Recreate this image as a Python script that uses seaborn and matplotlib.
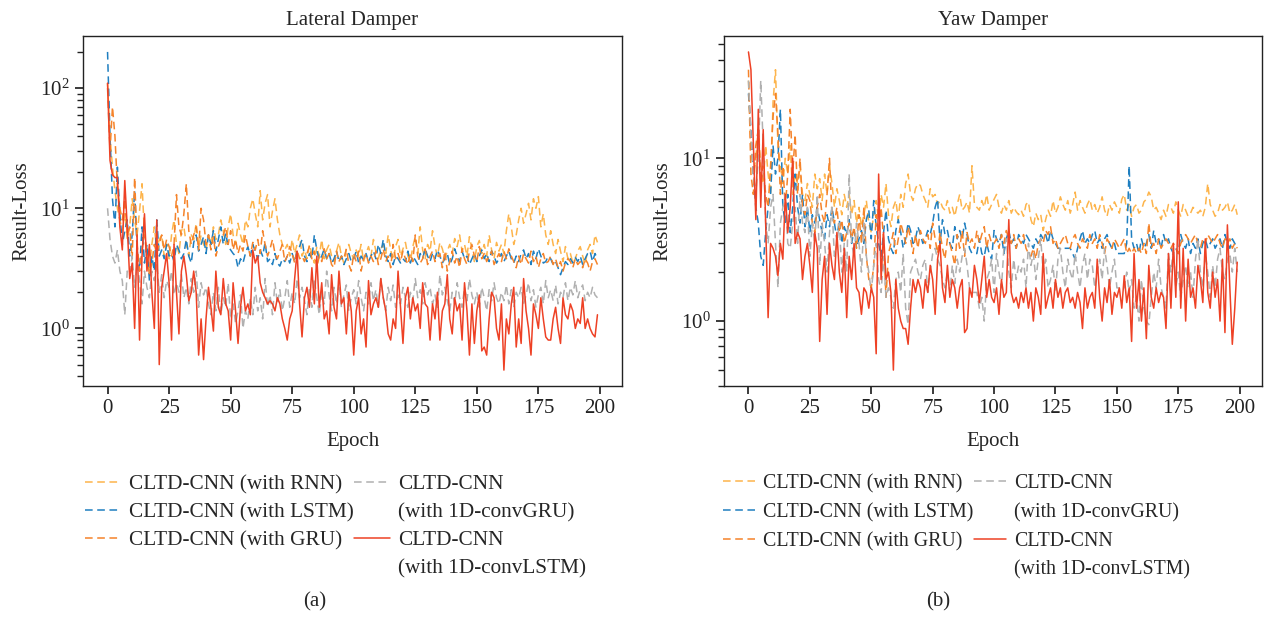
import numpy as np
import pandas as pd
import matplotlib
matplotlib.use('Agg')
import matplotlib.pyplot as plt
import seaborn as sns
from matplotlib.lines import Line2D

# Lateral damper losses (epochs 0..199)
lat_rnn = [
    110, 40, 22, 14, 10, 8, 6.5, 9, 5.5, 7, 12, 8, 6, 9.5, 16, 6, 4.5, 3.2, 5, 7,
    4.5, 5.5, 6, 4, 5, 3.8, 6, 8, 5, 4.2, 6.5, 7, 5, 4, 6, 5.5, 7.5, 4.8, 6, 5,
    4.5, 6, 5, 7, 5.5, 6, 8, 6.5, 5, 7, 9, 6, 5, 7.5, 6, 5, 8, 7, 10, 12,
    9, 7, 14, 8, 11, 13, 7, 9.5, 12, 8, 6, 5, 4.5, 5, 4, 5.5, 4.2, 5, 6, 4,
    4.5, 3.8, 5, 4.2, 3.5, 4.8, 4, 5.5, 3.8, 4.5, 5, 4, 3.6, 4.4, 5.2, 4, 3.5, 4.6, 5, 4.2,
    3.8, 4.5, 4, 5, 3.6, 4.2, 4.8, 4, 5.5, 4.4, 3.8, 4.6, 5, 4.2, 6, 4.5, 3.7, 4.8, 5.5, 4,
    4.6, 5.2, 4, 3.6, 4.8, 5.8, 4.2, 7, 4.5, 3.8, 5, 4.4, 6.5, 4.8, 4, 5.2, 4.6, 3.8, 4.4, 5,
    4.2, 5.6, 4.8, 6, 4.4, 5, 4, 5.8, 4.6, 3.6, 4.8, 5.4, 4.2, 5, 4, 6, 4.5, 3.8, 5.2, 4.4,
    5, 4.2, 6.5, 9, 7, 5, 6, 8, 10, 7.5, 9, 11, 8, 12, 10, 12.5, 7, 9, 6, 5,
    6.5, 5, 4.2, 5.5, 4.4, 3.6, 4.8, 3.8, 4.2, 3.5, 3.8, 4.4, 4.8, 4, 3.4, 4.5, 5, 4.2, 6, 5.2,
]
lat_lstm = [
    200, 40, 12, 7, 22, 9, 5, 6.5, 8, 4, 6, 14, 4.5, 3, 7, 3.5, 5, 2.5, 4, 3,
    8, 4, 4.5, 3.8, 5, 4, 4.2, 3.6, 5, 4.5, 3.8, 4.2, 5.5, 4, 3.5, 5.2, 6, 4.4, 5, 5.8,
    4.2, 6, 5, 6.5, 4.4, 5.5, 7, 5, 6.2, 4.8, 4.5, 4.2, 4, 3.2, 3.8, 3.5, 4.2, 4.8, 4, 5,
    4.4, 3.8, 4.5, 4, 5.2, 3.6, 3.8, 3.4, 4.2, 3.5, 3.3, 3.8, 3.6, 4, 3.5, 4.2, 3.6, 4.5, 4.8, 5.5,
    4, 3.6, 4.2, 3.8, 6, 4.5, 3.7, 4, 4.6, 3.8, 4.2, 3.5, 3.8, 4.4, 3.6, 4, 3.4, 3.8, 4.2, 3.6,
    3.8, 4.4, 3.5, 4, 3.7, 4.2, 3.6, 4, 4.4, 3.8, 5, 4.2, 5.5, 4, 3.6, 4.2, 3.4, 4, 3.8, 3.5,
    3.8, 3.6, 4.4, 3.5, 4, 3.7, 3.4, 4.2, 3.8, 4.6, 4, 3.6, 4.2, 3.8, 4.5, 4, 3.5, 3.8, 4.2, 3.4,
    3.8, 4.6, 4, 3.6, 4.4, 3.8, 4, 3.4, 3.8, 4.2, 3.6, 4, 4.5, 3.8, 4.2, 3.6, 4.4, 4, 3.5, 3.8,
    4.2, 3.6, 4, 4.4, 3.8, 3.5, 4, 3.6, 4.2, 4.5, 3.8, 4.2, 3.4, 4.4, 3.8, 4.6, 4, 3.5, 3.6, 4,
    3.8, 3.4, 3.6, 3.2, 2.8, 3.2, 3.6, 3.4, 3.8, 3.5, 3.9, 3.6, 4, 3.4, 3.8, 4.2, 4.4, 3.6, 4.2, 3.8,
]
lat_gru = [
    100, 30, 70, 40, 15, 10, 8, 12, 6, 7, 3.8, 18, 5, 3, 4.5, 6, 4, 2.8, 3.5, 5,
    4.2, 5, 6, 4.5, 5.5, 4.8, 4, 5, 13, 7, 6, 9, 16, 6.5, 5, 6, 7, 4.5, 10, 8,
    5, 6, 4.5, 5.8, 4, 4.8, 5.5, 6, 7, 5, 6.5, 4.5, 5.5, 4.2, 5, 4.4, 6, 4.8, 4, 5.2,
    4.5, 5.5, 4.2, 6.5, 5, 4, 4.6, 5.5, 4.2, 3.8, 4.4, 5, 3.6, 4, 4.8, 4.2, 3.5, 4.5, 3.8, 4,
    3.6, 4.2, 4.8, 3.8, 4.4, 3.2, 4, 3.6, 4.6, 3.8, 4.2, 3.4, 3.2, 4.4, 3.6, 4, 3.8, 4.6, 3.4, 3,
    4.2, 3.6, 4.4, 3, 3.8, 4.2, 3.5, 4, 3.6, 4.4, 3.4, 3.8, 4.6, 3.6, 4, 3.2, 5, 3.8, 4.2, 3.6,
    4.4, 3.8, 3.4, 4.2, 3.6, 6, 4, 3.5, 3.8, 4.6, 3.4, 4, 4.4, 3.6, 3.8, 4.2, 3.2, 4.4, 3, 3.6,
    4.4, 3.5, 4, 3.2, 4.6, 3.8, 3.4, 4.4, 5, 4, 3.6, 4.8, 3.8, 4.2, 3.6, 4, 4.4, 3.4, 3.8, 4.2,
    3.6, 4.4, 3.8, 4.6, 4, 3.6, 3.2, 4, 3.4, 4.2, 3.8, 3.5, 4.4, 3.6, 4, 3.2, 3.8, 4.2, 3.5, 3.6,
    4, 3.4, 3.8, 3.2, 3.6, 3, 3.5, 3.8, 3.6, 3.2, 3.8, 3.4, 3.6, 3.2, 3.8, 3.5, 3, 3.6, 3.8, 3.4,
]
lat_convgru = [
    10, 5.5, 4, 3.5, 4.5, 3, 2.5, 1.3, 3, 2.8, 4, 2.2, 3.5, 2.5, 1.6, 3, 2.2, 1.8, 3, 2.5,
    3.5, 2, 2.8, 1.8, 2.5, 2.2, 3, 1.9, 2.4, 2, 2.8, 1.8, 2.2, 1.6, 2.6, 2, 3, 1.5, 2.4, 1.9,
    2.2, 1.6, 1.3, 2, 1.4, 2.2, 1.3, 1.8, 1.5, 2.4, 1.2, 1.6, 1.1, 1.4, 1.9, 1.0, 1.4, 1.2, 1.8, 1.3,
    2.2, 1.4, 1.8, 1.2, 2.6, 1.5, 1.9, 1.3, 2.4, 1.6, 2.1, 1.4, 1.8, 2.5, 1.5, 2, 1.6, 2.6, 1.8, 2.2,
    1.7, 1.3, 2.2, 1.5, 2.6, 1.8, 1.3, 2, 1.6, 3, 1.9, 1.4, 2.2, 1.6, 2.4, 1.5, 1.9, 2.3, 1.4, 1.8,
    2.1, 1.6, 2.5, 1.8, 1.4, 2, 1.6, 2.4, 1.7, 2.1, 1.5, 2.6, 1.8, 1.4, 2.2, 1.7, 2.3, 1.5, 1.9, 1.6,
    2.2, 1.8, 1.5, 2, 1.7, 2.6, 1.8, 2.1, 1.6, 2.4, 1.9, 2.2, 1.6, 1.9, 1.5, 2.8, 1.9, 2.2, 1.7, 1.4,
    2, 1.6, 2.4, 1.8, 1.5, 2.2, 1.7, 2.6, 1.9, 1.6, 2, 1.5, 2.2, 1.8, 1.4, 2.1, 1.7, 2.4, 1.8, 1.6,
    2, 1.7, 2.3, 1.6, 2.1, 1.5, 2, 1.8, 2.2, 1.6, 1.9, 2.4, 1.7, 2.1, 1.5, 1.9, 2.2, 1.6, 2.5, 1.8,
    2.1, 1.7, 2.3, 1.6, 2, 1.8, 2.4, 1.7, 2.2, 1.9, 2.5, 1.8, 2.1, 2.3, 1.7, 2, 1.8, 2.2, 1.9, 1.8,
]
lat_convlstm = [
    110, 25, 19, 18, 18, 7, 4.5, 17, 7, 2.6, 3.5, 1.0, 6, 0.8, 4, 9, 3, 5, 2, 1.0,
    8, 0.5, 2.2, 3, 4.2, 2.4, 0.8, 5, 2, 0.9, 3, 4, 2.8, 1.7, 2, 3, 2, 0.6, 1.2, 0.55,
    1.2, 2.2, 1.5, 0.95, 3, 1.5, 1.3, 2.6, 1.6, 1.4, 0.8, 2.4, 1.4, 0.75, 1.5, 2.2, 1.4, 1.6, 1.3, 4.5,
    3.5, 4, 2.4, 2, 1.8, 1.6, 1.7, 1.6, 1.4, 1.8, 1.6, 1.2, 1.0, 0.8, 1.2, 1.4, 2.6, 4.4, 1.6, 0.85,
    1.8, 2.2, 1.5, 3.2, 1.6, 4, 1.5, 2.4, 1.2, 1.4, 0.9, 2.8, 1.5, 1.2, 3, 1.6, 1.8, 0.9, 2, 1.4,
    0.6, 1.4, 1.8, 0.9, 1.2, 0.7, 2.5, 1.3, 1.6, 1.8, 1.5, 2.6, 1.8, 1.4, 0.9, 0.8, 1.2, 1.0, 3.0, 1.5,
    0.75, 1.8, 2.2, 1.2, 1.8, 1.4, 1.6, 1.0, 2.4, 1.6, 1.5, 0.8, 1.6, 1.2, 2.0, 0.8, 1.4, 1.6, 2.8, 1.2,
    0.9, 1.8, 1.4, 1.6, 0.8, 2.4, 1.4, 0.6, 1.6, 0.75, 1.4, 1.9, 0.65, 0.7, 0.6, 1.2, 2, 1.8, 1.0, 0.8,
    1.6, 0.45, 1.2, 0.9, 1.6, 2.2, 0.7, 1.2, 0.75, 2.6, 1.4, 1.0, 0.6, 1.6, 1.3, 1.0, 1.8, 1.2, 0.85, 0.8,
    0.8, 1.2, 1.5, 1.0, 0.75, 1.8, 1.3, 1.2, 1.6, 1.4, 1.0, 1.2, 1.1, 1.8, 1.0, 1.2, 1.0, 0.9, 0.85, 1.3,
]

# Yaw damper losses (epochs 0..199)
yaw_rnn = [
    30, 12, 8, 10, 15, 9, 7, 12, 8, 6, 22, 35, 12, 9, 7, 10, 8, 12, 6, 8,
    7, 9, 6, 5.5, 7, 6, 5, 8, 6.5, 7.5, 5.5, 8, 6, 9, 7, 5, 6.5, 5.5, 4.5, 6,
    5, 6, 4.5, 5.5, 4, 5, 3.8, 4.5, 5.5, 4, 3.5, 4.5, 5.5, 4.2, 6, 5, 7, 4.5, 3.8, 5,
    5.5, 4.2, 6, 5, 7, 8, 6, 5.5, 6.5, 7, 6.8, 6, 5.5, 5, 6.5, 5.8, 6, 5.2, 5.5, 5,
    4.8, 5.5, 4.6, 5, 4.4, 5.2, 6, 4.8, 5, 5.4, 4.6, 9, 5.2, 5, 4.8, 5.5, 5, 6, 4.8, 5.2,
    5.6, 6, 5, 4.6, 5.2, 4.8, 5.5, 4.6, 5, 4.7, 4.5, 4.8, 4.4, 5.2, 5.4, 4.2, 3.8, 4.6, 4.2, 4.5,
    3.6, 4.2, 4.8, 4.4, 5.5, 4.6, 5, 5.8, 5.2, 4.8, 5.5, 4.6, 5.2, 6.2, 4.8, 5.5, 5, 4.6, 5.2, 5.6,
    4.8, 5.2, 4.6, 5, 5.8, 4.8, 4.4, 5.2, 4.8, 5.4, 5, 4.6, 5.6, 6, 4.8, 5.2, 4.4, 5, 5.2, 4.6,
    4.8, 5.4, 5.6, 6.2, 5.8, 4.8, 5, 4.6, 4.2, 4.8, 4.4, 5.2, 5, 4.6, 5.4, 4.8, 4.4, 5.2, 4.8, 4.4,
    4.6, 5, 4.8, 4.6, 4.8, 4.4, 5, 7, 5.2, 4.8, 4.4, 4.6, 5.2, 4.8, 5, 5.4, 4.6, 4.8, 5.2, 4.5,
]
yaw_lstm = [
    25, 15, 8, 5, 4, 2.5, 2.2, 3.5, 5, 6, 12, 8, 10, 20, 5, 4, 6, 3.5, 5, 8,
    5, 4, 6, 3.8, 5, 3.5, 4.5, 4, 5, 4.2, 3.5, 3.2, 4.5, 3.8, 5, 4, 3.2, 4.2, 3, 3.8,
    3.4, 4.2, 3, 3.6, 2.8, 3.2, 3.6, 3, 4.2, 4.8, 3.2, 5.5, 3.8, 3, 2.5, 3.5, 4.8, 3.2, 2.8, 2.6,
    3.6, 4.2, 3.5, 2.8, 3.2, 4, 3.6, 3, 3.2, 3.8, 3.4, 3, 3.2, 3.6, 3.4, 4, 5, 5.6, 3, 4.2,
    3.4, 3.6, 3, 2.8, 3.8, 3.2, 3.6, 3.2, 4, 3.4, 2.8, 2.6, 2.6, 2.6, 3.2, 2.6, 2.5, 3, 2.6, 2.4,
    3.6, 3.2, 3, 3.4, 2.6, 3.2, 3.6, 3, 3.2, 2.8, 3.4, 3.2, 3, 3.4, 3.2, 3, 2.8, 3.2, 3, 3.4,
    3.2, 3.4, 3, 3.6, 3.2, 3, 2.8, 2.8, 2.8, 2.8, 2.8, 2.8, 2.6, 2.4, 2.8, 3.2, 3.6, 3, 3.2, 3,
    3.4, 3.6, 3, 3.2, 2.8, 3.2, 3.4, 3, 2.8, 3, 2.6, 2.6, 2.6, 2.6, 3, 9, 3.2, 2.8, 3, 2.6,
    3.2, 2.8, 3, 3.4, 2.8, 3.6, 3, 3.2, 2.8, 3.4, 3, 3.2, 2.8, 2.6, 2.8, 2.6, 3.4, 3, 2.8, 3.2,
    2.6, 3, 2.8, 3.2, 2.6, 3, 3.2, 2.8, 3, 3.2, 2.8, 3, 3.2, 2.8, 3.4, 3, 2.8, 3.2, 3, 2.8,
]
yaw_gru = [
    35, 8, 6, 12, 15, 7, 9, 6, 5, 9, 18, 25, 14, 6, 9, 5, 8, 20, 8, 14,
    6, 10, 5, 4.5, 6, 5.5, 4, 3.5, 5, 6, 4.5, 4, 6, 10, 4.5, 4, 5, 3.5, 4.2, 3,
    3.5, 4, 3.2, 3.8, 2.8, 4.5, 3, 5, 2.5, 1.8, 1.6, 2.2, 4.5, 3.5, 5, 3.2, 1.4, 2.6, 3, 3.5,
    2.6, 3.2, 4, 3.5, 3, 3.8, 3.2, 2.6, 3.4, 2.8, 3.6, 3.2, 3, 3.4, 2.8, 4, 3.2, 2.6, 3.5, 2.8,
    2.4, 3.2, 3, 2.6, 2.2, 3.4, 2.8, 3.6, 2.5, 3.5, 3, 3.2, 2.8, 3.6, 3, 3.4, 3.8, 2.8, 3.4, 3,
    3, 3.2, 2.8, 3.4, 3, 3.6, 3.2, 3, 3.4, 2.8, 3.2, 3, 3.4, 2.8, 2.6, 2.5, 2.8, 2.4, 3, 3.2,
    3, 3.6, 3.4, 3.8, 3, 3.2, 2.8, 3, 3.2, 3.4, 3, 2.8, 3.2, 3.4, 3, 2.8, 3.2, 3, 2.8, 3.4,
    3, 3.2, 2.8, 3.4, 3, 2.6, 3.2, 3, 2.8, 3.2, 3, 2.8, 3, 3.2, 2.6, 2.8, 2.6, 2.8, 2.6, 2.8,
    2.6, 3, 2.6, 4, 2.8, 3, 2.6, 3.2, 2.8, 3, 3.2, 3, 2.8, 3, 2.8, 2.6, 3, 3.2, 3.4, 3.2,
    3, 3.2, 3.4, 3, 2.8, 3.2, 3, 3.4, 3.2, 3, 3.2, 3.4, 3, 2.8, 3.2, 3, 3.2, 2.8, 3, 2.8,
]
yaw_convgru = [
    30, 14, 8, 6, 10, 30, 12, 4, 3, 5, 6, 3, 1.6, 4, 5, 6, 3, 2.8, 4, 5,
    3, 6, 4, 3.5, 5, 2.5, 4, 3, 6, 2.2, 4, 3, 2, 3.5, 5, 2.5, 3, 4, 2, 3,
    2, 8, 3, 2.5, 4, 3, 2, 4, 2.5, 2, 1.5, 2.2, 3, 1.8, 1.5, 2.5, 1.4, 1.6, 1.4, 1.2,
    1.8, 2, 1.5, 2.6, 1.2, 0.95, 2, 2.2, 2.4, 2, 1.8, 2.2, 2.4, 1.5, 2, 2.6, 2.8, 2.4, 2.2, 1.8,
    1.6, 2, 1.5, 2.2, 1.7, 2.4, 2, 2.5, 2.8, 2.2, 1.6, 1.5, 1.5, 1.5, 1.2, 1.4, 1, 1.8, 2, 2.4,
    1.5, 2.6, 2, 1.6, 2.8, 3.2, 2, 1.6, 2.4, 1.8, 2.2, 2, 2.4, 1.6, 3, 2.2, 2.6, 1.8, 2.4, 3.2,
    2, 2.4, 1.6, 1.8, 2.2, 1.5, 2.4, 2.8, 2, 1.6, 2.4, 2, 1.8, 2.6, 2, 1.6, 2.2, 2.6, 1.8, 2.4,
    2.2, 1.6, 2, 2.4, 1.8, 2.8, 2.2, 1.6, 2, 2.4, 1.6, 1.6, 1.6, 1.6, 2, 1.5, 1.8, 1.2, 1.4, 1,
    1.8, 1.2, 1, 0.95, 1.4, 2, 1.6, 2.4, 1.6, 1.4, 1.2, 2.6, 2, 2.8, 1.6, 2, 1.4, 1.8, 2.2, 1.6,
    2, 1.4, 2.4, 3.2, 2, 1.6, 2.6, 2, 1.4, 2.2, 1.6, 2.4, 2.8, 2, 1.8, 2.4, 2.6, 2, 2.8, 2,
]
yaw_convlstm = [
    45, 35, 12, 4.2, 20, 5, 15, 4, 1.05, 3, 2.8, 2.5, 1.9, 3, 2.4, 6, 3.5, 5, 10, 3,
    3.5, 3.2, 1.8, 2.5, 3, 2.2, 1.5, 3.5, 2.8, 0.75, 1.8, 2.5, 1.1, 3, 2.2, 1.8, 3.5, 2, 1.5, 2.8,
    1.05, 2.5, 1.8, 3, 1.6, 1.5, 1.1, 1.6, 1.5, 1.2, 1.6, 1.4, 0.63, 8, 1.8, 3.5, 1.8, 2, 1.5, 0.5,
    1.8, 1.2, 1.0, 0.9, 0.9, 0.72, 1.2, 1.8, 1.5, 1.8, 1.6, 1.2, 1.8, 1.5, 2.2, 1.8, 1.1, 2.4, 3, 1.6,
    1.3, 2.2, 1.4, 1.8, 1.6, 1.2, 1.6, 1.8, 0.85, 0.9, 1.6, 1.4, 2.2, 1.8, 1.3, 1.8, 2.5, 1.4, 1.8, 1.4,
    1.3, 1.6, 1.1, 1.8, 1.4, 1.5, 4.2, 1.5, 1.3, 1.4, 1.2, 1.5, 1.3, 1.6, 1.2, 1.5, 1.0, 1.6, 1.4, 1.1,
    2.6, 1.2, 1.4, 1.6, 1.2, 1.8, 1.4, 1.6, 1.2, 1.5, 1.6, 1.3, 1.4, 1.2, 1.5, 1.3, 0.9, 1.6, 1.2, 1.4,
    1.5, 1.2, 2.4, 1.4, 1.0, 1.6, 1.3, 1.8, 1.1, 1.5, 1.4, 1.6, 1.2, 1.9, 1.3, 1.6, 0.75, 2.6, 1.2, 1.8,
    1.0, 1.6, 0.78, 2.2, 1.4, 1.2, 1.6, 1.3, 1.5, 1.4, 0.9, 2.6, 1.2, 3.0, 1.4, 5.4, 1.2, 2.8, 1.0, 2.4,
    1.4, 1.6, 1.2, 2.2, 1.8, 1.3, 3.2, 1.5, 1.2, 2.0, 1.4, 1.8, 1.0, 2.4, 0.85, 3.9, 1.6, 0.72, 1.2, 2.3,
]

model_labels = ['CLTD-CNN (with RNN)', 'CLTD-CNN (with LSTM)', 'CLTD-CNN (with GRU)',
                'CLTD-CNN\n(with 1D-convGRU)', 'CLTD-CNN\n(with 1D-convLSTM)']
colors = ['#fdb44b', '#1f7fc0', '#f5832a', '#b0b0b0', '#ee4125']
dashed = (0, (5, 3))
styles = [dashed, dashed, dashed, dashed, '-']

sns.set_theme(style='ticks')
plt.rcParams['font.family'] = ['Liberation Serif', 'DejaVu Serif']
plt.rcParams['mathtext.fontset'] = 'custom'
plt.rcParams['mathtext.rm'] = 'Liberation Serif'
plt.rcParams['axes.edgecolor'] = '#222222'
plt.rcParams['xtick.color'] = '#222222'
plt.rcParams['ytick.color'] = '#222222'

epochs = np.arange(200)
panels = [
    ('Lateral Damper', [lat_rnn, lat_lstm, lat_gru, lat_convgru, lat_convlstm], '(a)'),
    ('Yaw Damper', [yaw_rnn, yaw_lstm, yaw_gru, yaw_convgru, yaw_convlstm], '(b)'),
]

fig = plt.figure(figsize=(12.68, 6.18), dpi=100)
ax_pos = [[0.0655, 0.3754, 0.425, 0.5663], [0.571, 0.3754, 0.424, 0.5663]]
cap_x = [0.248, 0.740]
# per-panel legend settings: font size, handle length, text pad, label spacing, x anchor
leg_cfg = [(15.3, 1.65, 0.42, 0.39, 0.003), (14.3, 1.6, 0.4, 0.48, -0.002)]

for i, (title, series, cap) in enumerate(panels):
    ax = fig.add_axes(ax_pos[i])
    for vals, c, ls in zip(series, colors, styles):
        sns.lineplot(x=epochs, y=vals, ax=ax, color=c, linestyle=ls, linewidth=1.1)
    ax.set_yscale('log')
    ax.set_title(title, fontsize=15, pad=8)
    ax.set_xlabel('Epoch', fontsize=15, labelpad=10)
    ax.set_ylabel('Result-Loss', fontsize=15, labelpad=6)
    ax.set_xticks([0, 25, 50, 75, 100, 125, 150, 175, 200])
    ax.tick_params(labelsize=15)
    for s in ax.spines.values():
        s.set_linewidth(1.0)

    # legend: two columns, two-line labels kept aligned with their handle
    blank = Line2D([], [], color='none')
    handles, labels = [], []
    for k in range(3):
        handles.append(Line2D([], [], color=colors[k], linestyle=styles[k], linewidth=1.1))
        labels.append(model_labels[k])
    handles.append(blank)
    labels.append(' ')
    for k in (3, 4):
        first, second = model_labels[k].split('\n')
        handles.append(Line2D([], [], color=colors[k], linestyle=styles[k], linewidth=1.1))
        labels.append(first)
        handles.append(blank)
        labels.append(second)
    fs, hl, htp, lsp, bx = leg_cfg[i]
    ax.legend(handles, labels, ncol=2, frameon=False, fontsize=fs,
              loc='upper left', bbox_to_anchor=(bx, -0.252), handlelength=hl,
              handletextpad=htp, columnspacing=0.05, labelspacing=lsp, borderaxespad=0,
              borderpad=0)
    fig.text(cap_x[i], 0.01, cap, ha='center', va='bottom', fontsize=15)

fig.savefig('out.png', dpi=100)
